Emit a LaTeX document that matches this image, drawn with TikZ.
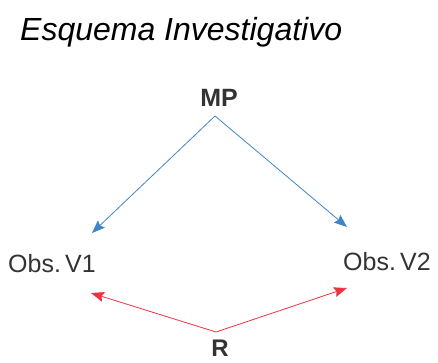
\documentclass[tikz,border=0pt]{standalone}
\usepackage{fontspec}
\setmainfont{Liberation Sans}
\usetikzlibrary{arrows.meta}
\definecolor{blue}{HTML}{3E86C8}
\definecolor{red}{HTML}{EE3340}
\definecolor{textgray}{HTML}{333333}

\begin{document}
\begin{tikzpicture}[x=1pt, y=-1pt, every node/.style={inner sep=0pt, text=textgray}, >={Stealth[length=13pt,width=10pt,inset=2pt]}]
\useasboundingbox (0,0) rectangle (438,362);
\node[anchor=base west, text=black, font=\fontsize{32}{36}\selectfont\itshape] (title) at (20,40) {Esquema Investigativo};
\node[anchor=base, font=\fontsize{25}{30}\selectfont\bfseries] (mp) at (219,106) {MP};
\node[anchor=base west, font=\fontsize{25}{30}\selectfont] (v1) at (8,272) {Obs.\,V1};
\node[anchor=base west, font=\fontsize{25}{30}\selectfont] (v2) at (343,270) {Obs.\,V2};
\node[anchor=base, font=\fontsize{24}{30}\selectfont\bfseries] (r) at (220,356) {R};
\coordinate (mpfoot) at (215,116);
\coordinate (rhead) at (216,332);
\coordinate (v1top) at (92,233);
\coordinate (v2top) at (347,227);
\coordinate (v1low) at (91,293);
\coordinate (v2low) at (347,288);
\draw[->,blue,line width=0.8pt] (mpfoot)--(v1top);
\draw[->,blue,line width=0.8pt] (mpfoot)--(v2top);
\draw[->,red,line width=0.8pt] (rhead)--(v1low);
\draw[->,red,line width=0.8pt] (rhead)--(v2low);
\end{tikzpicture}
\end{document}
